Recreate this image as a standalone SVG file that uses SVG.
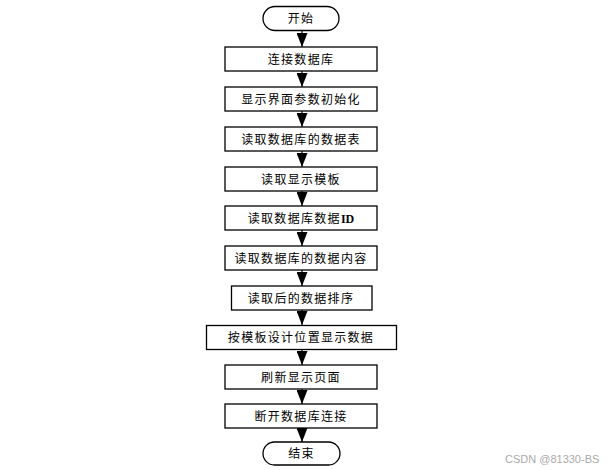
<svg xmlns="http://www.w3.org/2000/svg" width="607" height="470" viewBox="0 0 607 470">
<defs>
<style>
.box{fill:#fff;stroke:#000;stroke-width:1.3}
.t{font-family:"Noto Sans CJK SC","Liberation Sans",sans-serif;font-size:12px;fill:#000;text-anchor:middle;letter-spacing:1.3px}
.c{stroke:#000;stroke-width:1.2;fill:none}
.wm{font-family:"Liberation Sans",sans-serif;font-size:11px;fill:#aaa}
</style>
<marker id="arr" markerWidth="14" markerHeight="11" refX="14" refY="5.5" orient="auto" markerUnits="userSpaceOnUse" viewBox="0 0 14 11">
<path d="M0,0 L14,5.5 L0,11 Z" fill="#000"/>
</marker>
</defs>
<rect width="607" height="470" fill="#fff"/>
<g id="connectors">
<line class="c" x1="302" y1="31" x2="302" y2="47" marker-end="url(#arr)"/>
<line class="c" x1="302" y1="71" x2="302" y2="87" marker-end="url(#arr)"/>
<line class="c" x1="302" y1="111" x2="302" y2="127" marker-end="url(#arr)"/>
<line class="c" x1="302" y1="151" x2="302" y2="167" marker-end="url(#arr)"/>
<line class="c" x1="302" y1="191" x2="302" y2="206" marker-end="url(#arr)"/>
<line class="c" x1="302" y1="230" x2="302" y2="246" marker-end="url(#arr)"/>
<line class="c" x1="302" y1="270" x2="302" y2="286" marker-end="url(#arr)"/>
<line class="c" x1="302" y1="310" x2="302" y2="325" marker-end="url(#arr)"/>
<line class="c" x1="302" y1="350" x2="302" y2="365" marker-end="url(#arr)"/>
<line class="c" x1="302" y1="389" x2="302" y2="404" marker-end="url(#arr)"/>
<line class="c" x1="302" y1="428" x2="302" y2="442" marker-end="url(#arr)"/>
</g>
<g id="start"><rect class="box" x="263" y="6.5" width="76" height="24" rx="12"/><text class="t" x="301" y="23">开始</text></g>
<g id="n1"><rect class="box" x="225" y="47" width="152" height="24"/><text class="t" x="301" y="63.5">连接数据库</text></g>
<g id="n2"><rect class="box" x="225" y="87" width="152" height="24"/><text class="t" x="301" y="103.5">显示界面参数初始化</text></g>
<g id="n3"><rect class="box" x="225" y="127" width="152" height="24"/><text class="t" x="301" y="143.5">读取数据库的数据表</text></g>
<g id="n4"><rect class="box" x="225" y="167" width="152" height="24"/><text class="t" x="301" y="183.5">读取显示模板</text></g>
<g id="n5"><rect class="box" x="225" y="206" width="152" height="24"/><text class="t" x="301" y="222.5">读取数据库数据<tspan font-family="Liberation Serif, serif" font-weight="bold" letter-spacing="0">ID</tspan></text></g>
<g id="n6"><rect class="box" x="225" y="246" width="152" height="24"/><text class="t" x="301" y="262.5">读取数据库的数据内容</text></g>
<g id="n7"><rect class="box" x="231.5" y="286" width="140.5" height="24"/><text class="t" x="301" y="302.5">读取后的数据排序</text></g>
<g id="n8"><rect class="box" x="206.5" y="325.5" width="190" height="24"/><text class="t" x="301" y="342">按模板设计位置显示数据</text></g>
<g id="n9"><rect class="box" x="225" y="365" width="152" height="24"/><text class="t" x="301" y="381.5">刷新显示页面</text></g>
<g id="n10"><rect class="box" x="225" y="404" width="152" height="24"/><text class="t" x="301" y="420.5">断开数据库连接</text></g>
<g id="end"><rect class="box" x="263" y="442" width="77" height="23" rx="11.5"/><text class="t" x="301.5" y="458">结束</text></g>
<text class="wm" x="505" y="463">CSDN @81330-BS</text>
</svg>
